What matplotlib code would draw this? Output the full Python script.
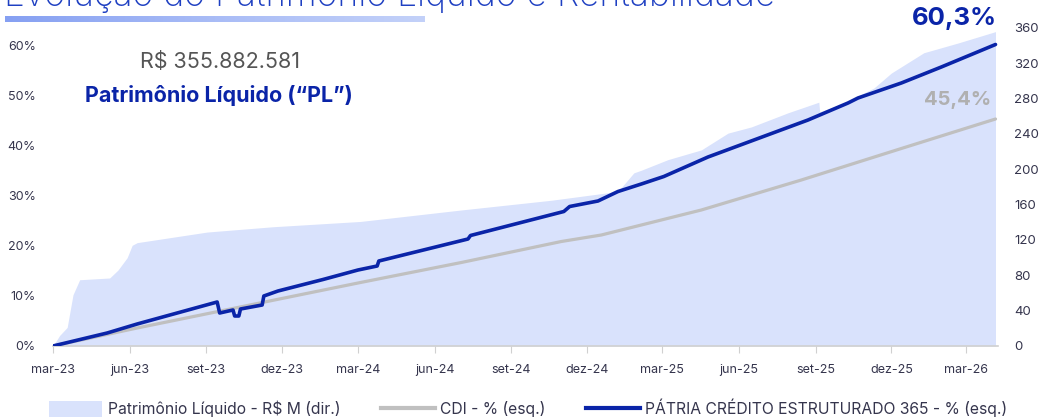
"""Evolução do Patrimônio Líquido e Rentabilidade (PL area + CDI / fund lines)."""
import matplotlib
matplotlib.use("Agg")
import matplotlib.pyplot as plt
import numpy as np
import pandas as pd
from matplotlib.colors import LinearSegmentedColormap
from matplotlib.lines import Line2D
from matplotlib.patches import Patch

# --- data ---
pl_dates = ["2023-03-01", "2023-03-09", "2023-03-18", "2023-03-25", "2023-04-02",
            "2023-05-08", "2023-05-18", "2023-05-29", "2023-06-04", "2023-06-10",
            "2023-09-02", "2023-11-20", "2024-03-04", "2024-07-03", "2024-10-19",
            "2025-01-07", "2025-01-26", "2025-02-04", "2025-03-08", "2025-04-17",
            "2025-05-19", "2025-06-16", "2025-07-30", "2025-09-05", "2025-09-06",
            "2025-10-14", "2025-10-26", "2025-11-10", "2025-12-01", "2026-01-09",
            "2026-02-19", "2026-04-05"]
pl_values = [0, 12, 21, 58, 75,
             77, 86, 100, 114, 117,
             129, 135, 141, 154, 165,
             175, 196, 199, 211, 222,
             241, 248, 264, 276, 265,
             278, 285, 292, 309, 332,
             343, 355.9]

cdi_dates = ["2023-03-01", "2023-06-10", "2023-11-10", "2024-03-04", "2024-07-03",
             "2024-10-31", "2024-12-18", "2025-02-04", "2025-04-17", "2025-08-15",
             "2025-12-13", "2026-04-05"]
cdi_values = [0, 3.6, 8.8, 12.7, 16.7,
              20.9, 22.2, 24.2, 27.2, 33.2,
              39.5, 45.4]

fund_dates = ["2023-03-01", "2023-05-05", "2023-06-10", "2023-09-14", "2023-09-17",
              "2023-10-03", "2023-10-05", "2023-10-10", "2023-10-12", "2023-11-07",
              "2023-11-09", "2023-11-26", "2024-01-19", "2024-03-01", "2024-03-24",
              "2024-03-26", "2024-07-11", "2024-07-14", "2024-11-03", "2024-11-10",
              "2024-12-14", "2025-01-07", "2025-02-04", "2025-03-03", "2025-04-25",
              "2025-08-23", "2025-10-10", "2025-10-22", "2025-12-13", "2026-01-30",
              "2026-04-05"]
fund_values = [0, 2.6, 4.4, 8.8, 6.6,
               7.2, 6.0, 6.0, 7.4, 8.2,
               10.0, 11.0, 13.3, 15.2, 16.0,
               17.0, 21.4, 22.1, 26.9, 27.9,
               29.0, 30.9, 32.4, 33.9, 37.8,
               45.2, 48.6, 49.6, 52.6, 55.8,
               60.3]

tick_dates = ["2023-03-01", "2023-06-01", "2023-09-01", "2023-12-01", "2024-03-01",
              "2024-06-01", "2024-09-01", "2024-12-01", "2025-03-01", "2025-06-01",
              "2025-09-01", "2025-12-01", "2026-03-01"]
tick_labels = ["mar-23", "jun-23", "set-23", "dez-23", "mar-24", "jun-24", "set-24",
               "dez-24", "mar-25", "jun-25", "set-25", "dez-25", "mar-26"]
left_ticks = [0, 10, 20, 30, 40, 50, 60]
right_ticks = [0, 40, 80, 120, 160, 200, 240, 280, 320, 360]

pl_total = "R$ 355.882.581"
fund_last = "60,3%"
cdi_last = "45,4%"

# --- style ---
AREA = "#d9e2fc"
BLUE = "#0a24a8"
GRAY = "#c0c0c0"
INK = "#35354d"
TITLE = "#1f40c2"

plt.rcParams["font.family"] = ["Inter", "DejaVu Sans"]

W, H = 1040, 420
fig = plt.figure(figsize=(W / 100, H / 100), dpi=100)

# plot box in pixels: x 53..998, y 26..346
ax = fig.add_axes([53 / W, 1 - 346 / H, (998 - 53) / W, (346 - 26) / H])
ax2 = ax.twinx()
ax.set_zorder(ax2.get_zorder() + 1)
ax.patch.set_visible(False)

ax2.fill_between(pd.to_datetime(pl_dates), 0, pl_values, color=AREA, linewidth=0)
ax.plot(pd.to_datetime(cdi_dates), cdi_values, color=GRAY, lw=2.3,
        solid_capstyle="round", zorder=3)
ax.plot(pd.to_datetime(fund_dates), fund_values, color=BLUE, lw=2.6,
        solid_capstyle="round", solid_joinstyle="round", zorder=4)

ax.set_xlim(pd.Timestamp("2023-03-01"), pd.Timestamp("2026-04-08"))
ax.set_ylim(0, 64)
ax2.set_ylim(0, 320 * 360 / 318)

ax.set_xticks(pd.to_datetime(tick_dates))
ax.set_xticklabels(tick_labels)
ax.set_yticks(left_ticks)
ax.set_yticklabels([f"{v}%" for v in left_ticks])
ax2.set_yticks(right_ticks)
ax2.set_yticklabels([str(v) for v in right_ticks])

for a in (ax, ax2):
    for s in a.spines.values():
        s.set_visible(False)
ax.spines["bottom"].set_visible(True)
ax.spines["bottom"].set_color("#d0d0d0")
ax.spines["bottom"].set_linewidth(1.2)
ax.tick_params(axis="x", length=5, color="#d0d0d0", labelsize=9, labelcolor=INK, pad=8)
ax.tick_params(axis="y", length=0, labelsize=9, labelcolor=INK, pad=12.5)
ax2.tick_params(axis="y", length=0, labelsize=9.5, labelcolor=INK, pad=11.5)

# title (cut off at the top in the reference) + gradient underline
fig.text(4 / W, 1 - 6 / H, "Evolução do Patrimônio Líquido e Rentabilidade",
         fontsize=25.5, color=TITLE, fontweight="light", ha="left", va="baseline")
bar = fig.add_axes([5 / W, 1 - 22 / H, 420 / W, 6 / H])
grad = np.linspace(0, 1, 256).reshape(1, -1)
cmap = LinearSegmentedColormap.from_list("u", ["#86a0f2", "#a9bcf6", "#c3d1f9"])
bar.imshow(grad, aspect="auto", cmap=cmap)
bar.axis("off")

# annotations
fig.text(220 / W, 1 - 62 / H, pl_total, fontsize=15.5, color="#555555",
         ha="center", va="center")
fig.text(219 / W, 1 - 96 / H, "Patrimônio Líquido (“PL”)", fontsize=15.5,
         color=BLUE, fontweight="bold", ha="center", va="center")
fig.text(997 / W, 1 - 19 / H, fund_last, fontsize=18.5, color=BLUE,
         fontweight="bold", ha="right", va="center")
fig.text(991 / W, 1 - 100 / H, cdi_last, fontsize=14.5, color="#b0b0b0",
         fontweight="bold", ha="right", va="center")

handles = [Patch(facecolor=AREA, edgecolor="none"),
           Line2D([], [], color=GRAY, lw=3),
           Line2D([], [], color=BLUE, lw=3)]
labels = ["Patrimônio Líquido - R$ M (dir.)", "CDI - % (esq.)",
          "PÁTRIA CRÉDITO ESTRUTURADO 365 - % (esq.)"]
fig.legend(handles, labels, loc="lower center", bbox_to_anchor=(0.508, -0.027),
           ncol=3, frameon=False, fontsize=11.3, handlelength=3.4,
           handleheight=1.2, handletextpad=0.35, columnspacing=2.6,
           labelcolor=INK)

fig.savefig("out.png", dpi=100)
